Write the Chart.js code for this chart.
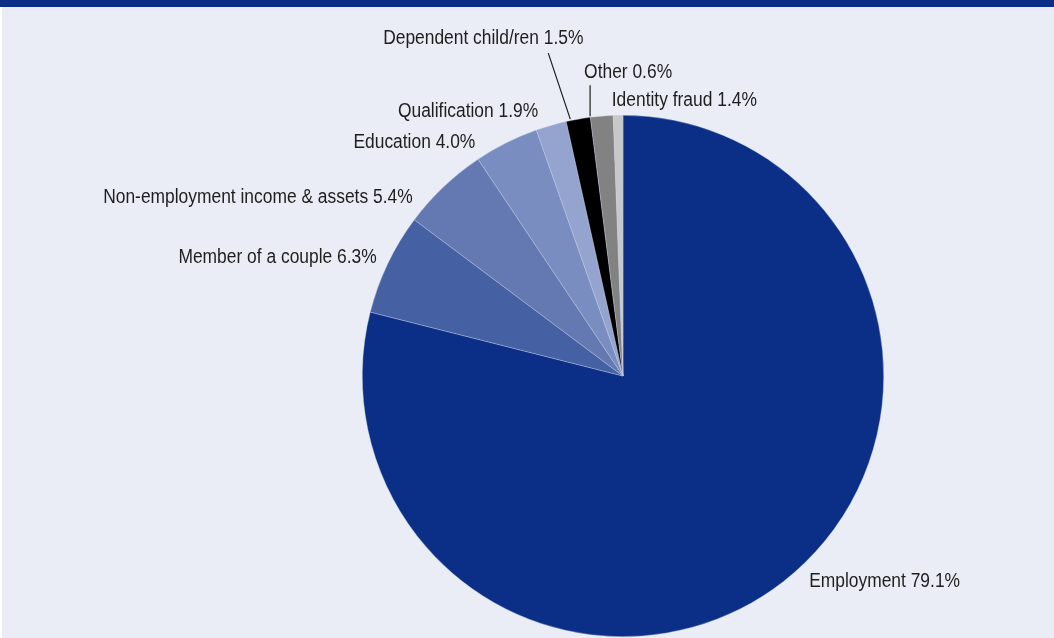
<!DOCTYPE html>
<html>
<head>
<meta charset="utf-8">
<script src="https://cdn.jsdelivr.net/npm/chart.js@4"></script>
<style>
  html, body { margin: 0; padding: 0; background: #ffffff; }
  #wrap { position: absolute; left: 0; top: 0; width: 1054px; height: 638px; background: #ffffff; overflow: hidden; }
  #bar { position: absolute; left: 0; top: 0; width: 1054px; height: 7px; background: #0b2f86; }
  #panel { position: absolute; left: 2px; top: 7px; width: 1052px; height: 631px; background: #eaedf6; }
</style>
</head>
<body>
<div id="wrap">
  <div id="bar"></div>
  <div id="panel"><canvas id="pieChart" width="1052" height="631"></canvas></div>
</div>
<script>
// share of cases by group (%)
const categories = [
  "Employment",
  "Member of a couple",
  "Non-employment income & assets",
  "Education",
  "Qualification",
  "Dependent child/ren",
  "Identity fraud",
  "Other"
];
const shares = [79.1, 6.3, 5.4, 4.0, 1.9, 1.5, 1.4, 0.6];
const sliceColours = ["#0b2f86", "#4561a3", "#6479b1", "#7a8dc0", "#94a4cf", "#000000", "#828282", "#c8c8c8"];

// hand placement of labels, relative to the middle of each slice's rim
const labelNudge = [
  { dx: 26, dy: 0, align: "left" },
  { dx: -11, dy: -6, align: "right" },
  { dx: -31, dy: 11, align: "right" },
  { dx: -31, dy: 0, align: "right" },
  { dx: -13, dy: -14, align: "right" },
  { dx: -95, dy: -81, align: "center", leader: [-30, -66, -8, 0] },
  { dx: 10, dy: -16, align: "left" },
  { dx: -34, dy: -43, align: "left", leader: [-28, -30, -28, 1] }
];

const pieLabels = {
  id: "pieLabels",
  afterDraw(chart) {
    const ctx = chart.ctx;
    const arcs = chart.getDatasetMeta(0).data;
    ctx.save();
    ctx.font = "20px 'Liberation Sans', Arial, sans-serif";
    ctx.fillStyle = "#1e1e1e";
    ctx.textBaseline = "middle";
    arcs.forEach((arc, i) => {
      const mid = (arc.startAngle + arc.endAngle) / 2;
      const px = arc.x + Math.cos(mid) * arc.outerRadius;
      const py = arc.y + Math.sin(mid) * arc.outerRadius;
      const n = labelNudge[i];
      // squeeze the text sideways to get the condensed look
      ctx.save();
      ctx.translate(px + n.dx, py + n.dy);
      ctx.scale(0.87, 1);
      ctx.textAlign = n.align;
      ctx.fillText(categories[i] + " " + shares[i].toFixed(1) + "%", 0, 0);
      ctx.restore();
      if (n.leader) {
        ctx.beginPath();
        ctx.strokeStyle = "#1e1e1e";
        ctx.lineWidth = 1.2;
        ctx.moveTo(px + n.leader[0], py + n.leader[1]);
        ctx.lineTo(px + n.leader[2], py + n.leader[3]);
        ctx.stroke();
      }
    });
    ctx.restore();
  }
};

new Chart(document.getElementById("pieChart").getContext("2d"), {
  type: "pie",
  data: {
    labels: categories,
    datasets: [{
      data: shares,
      backgroundColor: sliceColours,
      borderColor: "rgba(200, 210, 235, 0.6)",
      borderWidth: 0.6
    }]
  },
  options: {
    responsive: false,
    animation: false,
    layout: { padding: { top: 108, bottom: 1, left: 360, right: 170 } },
    plugins: {
      legend: { display: false },
      tooltip: { enabled: false }
    }
  },
  plugins: [pieLabels]
});
</script>
</body>
</html>
